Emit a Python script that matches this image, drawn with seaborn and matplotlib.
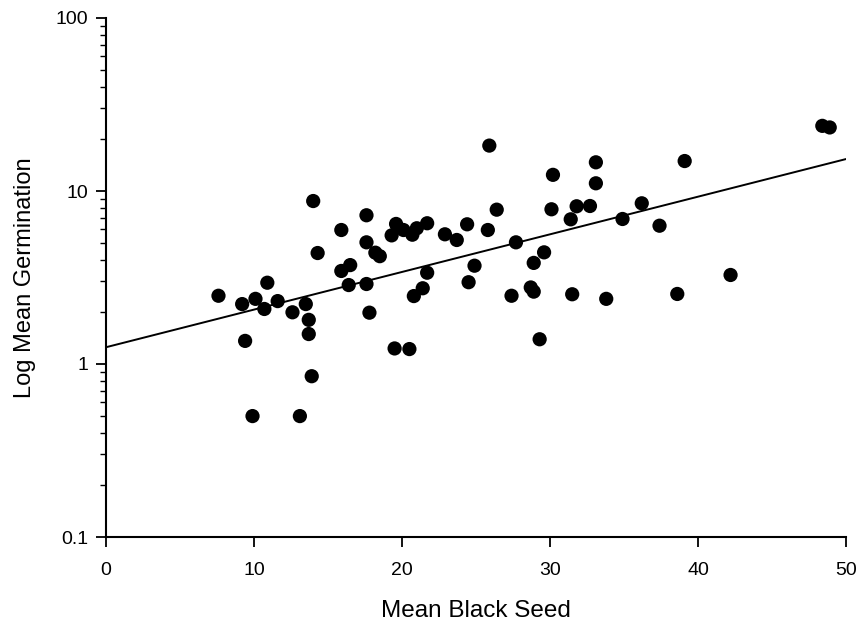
import matplotlib
matplotlib.use('Agg')
import matplotlib.pyplot as plt
import matplotlib.ticker as mticker
import pandas as pd
import seaborn as sns

# Values
black_seed = [7.6, 9.2, 10.1, 10.7, 10.9, 11.6, 12.6, 13.5, 13.7, 13.7,
              9.4, 13.9, 9.9, 13.1, 14.0, 14.3, 15.9, 16.5, 15.9, 16.4,
              17.6, 17.6, 17.6, 17.8, 18.2, 18.5, 19.3, 19.6, 20.1, 20.7,
              21.0, 21.7, 21.7, 21.4, 20.8, 19.5, 20.5, 22.9, 23.7, 24.4,
              25.8, 25.9, 26.4, 24.9, 24.5, 27.7, 27.4, 29.6, 28.9, 28.7,
              28.9, 29.3, 30.2, 30.1, 31.4, 31.8, 32.7, 33.1, 33.1, 31.5,
              33.8, 34.9, 36.2, 37.4, 39.1, 38.6, 42.2, 48.4, 48.9]
germination = [2.48, 2.22, 2.38, 2.08, 2.95, 2.31, 1.99, 2.22, 1.80, 1.49,
               1.36, 0.85, 0.50, 0.50, 8.75, 4.38, 5.95, 3.73, 3.45, 2.86,
               7.24, 5.05, 2.90, 1.98, 4.40, 4.20, 5.54, 6.45, 5.95, 5.59,
               6.09, 6.51, 3.37, 2.74, 2.47, 1.23, 1.22, 5.62, 5.21, 6.42,
               5.95, 18.3, 7.80, 3.70, 2.97, 5.05, 2.48, 4.42, 3.84, 2.77,
               2.62, 1.39, 12.4, 7.84, 6.86, 8.16, 8.19, 14.65, 11.08, 2.53,
               2.38, 6.89, 8.49, 6.30, 14.9, 2.54, 3.27, 23.8, 23.3]

# fitted line as drawn in the reference (end points)
trend_x = [0, 50]
trend_y = [1.25, 15.3]

df = pd.DataFrame({'seed': black_seed, 'germ': germination})
trend = pd.DataFrame({'seed': trend_x, 'germ': trend_y})

sns.set_style('ticks')
plt.rcParams['font.family'] = ['Liberation Sans', 'DejaVu Sans']

fig = plt.figure(figsize=(8.57, 6.22), dpi=100)
ax = fig.add_axes([106 / 857, 1 - 537 / 622, 740 / 857, 519 / 622])

sns.lineplot(data=trend, x='seed', y='germ', ax=ax, color='black', linewidth=1.4)
sns.scatterplot(data=df, x='seed', y='germ', ax=ax, color='black', s=105,
                edgecolor='none', zorder=3)

ax.set_yscale('log')
ax.set_xlim(0, 50)
ax.set_ylim(0.1, 100)
ax.set_xticks([0, 10, 20, 30, 40, 50])
ax.yaxis.set_major_locator(mticker.FixedLocator([0.1, 1, 10, 100]))
ax.yaxis.set_major_formatter(mticker.FuncFormatter(lambda v, p: f'{v:g}'))
ax.yaxis.set_minor_locator(mticker.LogLocator(base=10, subs=range(2, 10)))
ax.yaxis.set_minor_formatter(mticker.NullFormatter())

ax.set_xlabel('Mean Black Seed', fontsize=17.5, labelpad=15, color='black')
ax.set_ylabel('Log Mean Germination', fontsize=17, labelpad=14, color='black')
ax.tick_params(axis='both', which='major', labelsize=14, length=7,
               width=1.3, color='black', labelcolor='black', direction='out', pad=6)
ax.tick_params(axis='x', which='major', pad=11)
ax.tick_params(axis='y', which='minor', length=4, width=1.0, color='black')

sns.despine(ax=ax)
for side in ['left', 'bottom']:
    ax.spines[side].set_linewidth(1.5)
    ax.spines[side].set_color('black')

fig.savefig('out.png', dpi=100)
